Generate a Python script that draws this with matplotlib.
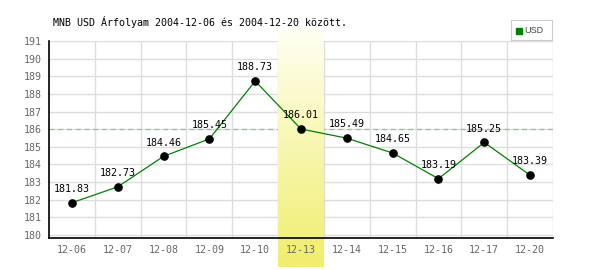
import numpy as np
import matplotlib
matplotlib.use("Agg")
import matplotlib.pyplot as plt
from matplotlib.colors import LinearSegmentedColormap

# data
dates = ["12-06", "12-07", "12-08", "12-09", "12-10", "12-13",
         "12-14", "12-15", "12-16", "12-17", "12-20"]
rates = [181.83, 182.73, 184.46, 185.45, 188.73, 186.01,
         185.49, 184.65, 183.19, 185.25, 183.39]
highlight = "12-13"
ref_rate = 186.01
title = "MNB USD Árfolyam 2004-12-06 és 2004-12-20 között."
currency = "USD"

mono = "DejaVu Sans Mono"
x = np.arange(len(dates))

fig = plt.figure(figsize=(6, 2.7), dpi=100)
ax = fig.add_axes([49/600, 32/270, 504/600, 197/270])
ax.set_xlim(-0.5, len(dates) - 0.5)
ax.set_ylim(179.83, 191)

# grid
for yv in range(180, 192):
    ax.axhline(yv, color="#dddddd", lw=1, zorder=0)
for xv in np.arange(0.5, len(dates), 1):
    ax.axvline(xv, color="#dddddd", lw=1, zorder=0)

ax.axhline(ref_rate, color="#88cc88", lw=0.9, ls=(0, (4, 3)), zorder=0.2)

# highlighted day, gradient band running past the plot area
hi = dates.index(highlight)
cmap = LinearSegmentedColormap.from_list("hl", ["#fffff2", "#f0ee6c"])
grad = np.linspace(0, 1, 256).reshape(-1, 1)
ax.imshow(grad, cmap=cmap, aspect="auto", origin="upper",
          extent=(hi - 0.5, hi + 0.5, 178.2, 191.62), zorder=0.5,
          clip_on=False)

ax.plot(x, rates, color="#008000", lw=0.9, zorder=2)
ax.plot(x, rates, "o", color="black", ms=5.2, zorder=3)
for xi, r in zip(x, rates):
    ax.text(xi, r + 0.5, f"{r:.2f}", family=mono, fontsize=7.2,
            ha="center", va="bottom", color="black", zorder=4)

ax.set_xticks(x)
ax.set_xticklabels(dates, family=mono, fontsize=7.2, color="#666666")
ax.set_yticks(range(180, 192))
ax.set_yticklabels([str(v) for v in range(180, 192)], family=mono,
                   fontsize=7.2, color="#666666")
ax.tick_params(length=0, pad=5)
for s in ("top", "right"):
    ax.spines[s].set_visible(False)
ax.spines["left"].set_linewidth(1.2)
ax.spines["bottom"].set_linewidth(1.2)
ax.spines["left"].set_zorder(5)
ax.spines["bottom"].set_zorder(5)
ax.set_facecolor("none")

fig.text(53/600, 1 - 22/270, title, family=mono, fontsize=7.2,
         ha="left", va="center", color="black")

# legend box
lax = fig.add_axes([511/600, 1 - 40/270, 41/600, 20/270])
lax.set_xticks([])
lax.set_yticks([])
for s in lax.spines.values():
    s.set_color("#cccccc")
lax.set_xlim(0, 41)
lax.set_ylim(0, 20)
lax.add_patch(plt.Rectangle((5, 6.5), 6, 6, color="#008000"))
lax.text(13, 9.5, currency, fontsize=6.5, va="center", ha="left",
         color="#444444", family="Liberation Sans")

fig.savefig("out.png", dpi=100)
